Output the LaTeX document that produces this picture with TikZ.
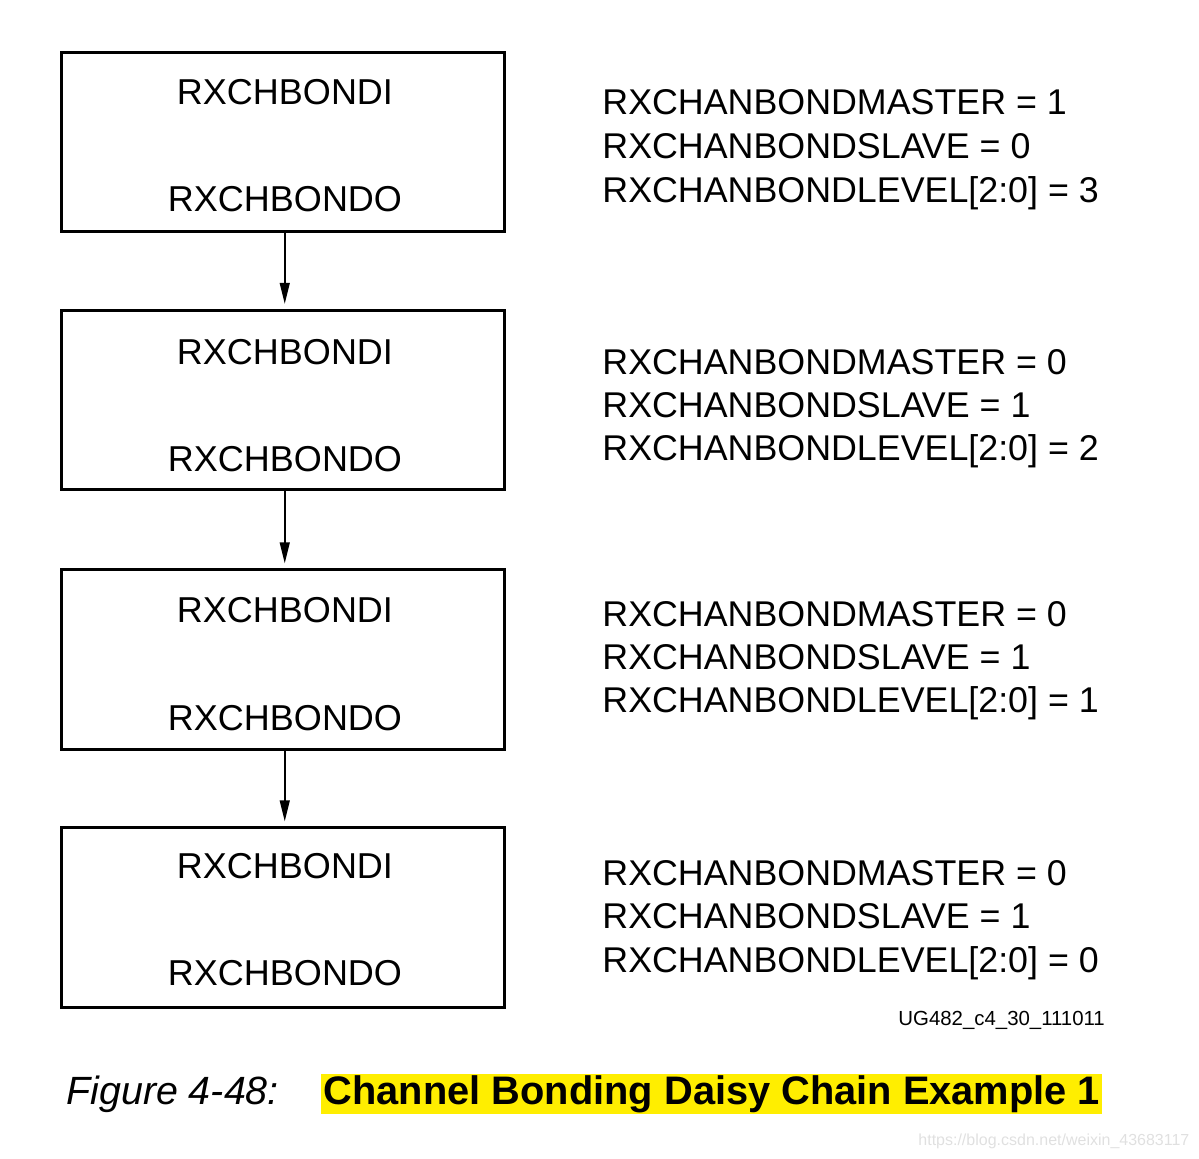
\documentclass[tikz,border=0pt]{standalone}
\usepackage{fontspec}
\setmainfont{Liberation Sans}
\usetikzlibrary{arrows.meta}
\definecolor{capyellow}{RGB}{255,238,0}
\tikzset{
  chbox/.style={draw=black, line width=1.5pt, minimum width=221.25pt, minimum height=89.75pt, inner sep=0pt},
  port/.style={anchor=base, inner sep=0pt, font=\fontsize{18}{20}\selectfont},
  attr/.style={anchor=base west, inner sep=0pt, font=\fontsize{17.9}{20}\selectfont},
  link/.style={line width=0.8pt, -{Triangle[length=10.5pt,width=5pt]}, shorten >=2.5pt}
}
\begin{document}
\begin{tikzpicture}[x=0.5pt, y=-0.5pt]
\useasboundingbox (0,0) rectangle (1199,1158);
% lanes of the daisy chain
\node[chbox] (lane1) at (282.75,141.75) {};
\node[chbox] (lane2) at (282.75,400) {};
\node[chbox] (lane3) at (282.75,659.5) {};
\node[chbox] (lane4) at (282.75,917.5) {};
\node[port] (in1) at (285,104) {RXCHBONDI};
\node[port] (out1) at (285,211) {RXCHBONDO};
\node[port] (in2) at (285,364) {RXCHBONDI};
\node[port] (out2) at (285,471) {RXCHBONDO};
\node[port] (in3) at (285,622) {RXCHBONDI};
\node[port] (out3) at (285,730) {RXCHBONDO};
\node[port] (in4) at (285,878) {RXCHBONDI};
\node[port] (out4) at (285,985) {RXCHBONDO};
% connections
\draw[link] ([xshift=1pt]lane1.south) -- ([xshift=1pt]lane2.north);
\draw[link] ([xshift=1pt]lane2.south) -- ([xshift=1pt]lane3.north);
\draw[link] ([xshift=1pt]lane3.south) -- ([xshift=1pt]lane4.north);
% attribute settings
\node[attr] (mst1) at (602,114) {RXCHANBONDMASTER = 1};
\node[attr] (slv1) at (602,158) {RXCHANBONDSLAVE = 0};
\node[attr] (lvl1) at (602,202) {RXCHANBONDLEVEL[2:0] = 3};
\node[attr] (mst2) at (602,374) {RXCHANBONDMASTER = 0};
\node[attr] (slv2) at (602,417) {RXCHANBONDSLAVE = 1};
\node[attr] (lvl2) at (602,460) {RXCHANBONDLEVEL[2:0] = 2};
\node[attr] (mst3) at (602,626) {RXCHANBONDMASTER = 0};
\node[attr] (slv3) at (602,669) {RXCHANBONDSLAVE = 1};
\node[attr] (lvl3) at (602,712) {RXCHANBONDLEVEL[2:0] = 1};
\node[attr] (mst4) at (602,885) {RXCHANBONDMASTER = 0};
\node[attr] (slv4) at (602,928) {RXCHANBONDSLAVE = 1};
\node[attr] (lvl4) at (602,972) {RXCHANBONDLEVEL[2:0] = 0};
\node[anchor=base west, inner sep=0pt, font=\fontsize{10.2}{12}\selectfont] (figid) at (898,1025) {UG482\_c4\_30\_111011};
% caption
\node[anchor=base west, inner sep=0pt, font=\fontsize{19.7}{22}\selectfont\itshape] (capnum) at (66,1104) {Figure 4-48:};
\node[anchor=base west, fill=capyellow, inner xsep=1.2pt, inner ysep=0.8pt, font=\fontsize{19.9}{22}\selectfont\bfseries] (captext) at (321,1104) {Channel Bonding Daisy Chain Example 1};
\node[anchor=base west, inner sep=0pt, text=black!12, font=\fontsize{8}{10}\selectfont] (mark) at (918,1145) {https://blog.csdn.net/weixin\_43683117};
\end{tikzpicture}
\end{document}
